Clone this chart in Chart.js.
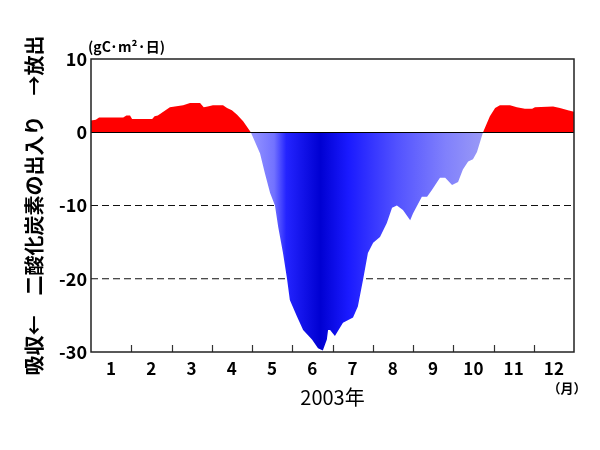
<!DOCTYPE html>
<html>
<head>
<meta charset="utf-8">
<script src="https://cdn.jsdelivr.net/npm/chart.js@4/dist/chart.umd.min.js"></script>
<style>
html,body{margin:0;padding:0;background:#fff;}
#wrap{width:600px;height:450px;position:relative;}
</style>
</head>
<body>
<div id="wrap"><canvas id="c" width="600" height="450"></canvas></div>
<script>
// month position (0 = start of Jan, 12 = end of Dec)
const monthPos = [
  0, 0.12, 0.2, 0.8, 0.88, 0.97, 1.02, 1.52, 1.58, 1.66, 1.96, 2.29, 2.46, 2.71, 2.8, 2.9, 3.03, 3.28, 3.38, 3.5, 3.63, 3.78, 3.97,
  4.2, 4.32, 4.45, 4.57, 4.65, 4.77, 4.87, 4.94, 5.12, 5.27, 5.49, 5.64, 5.76, 5.86, 5.89, 5.94, 6.06, 6.26, 6.51, 6.63, 6.76, 6.88,
  7.01, 7.18, 7.35, 7.48, 7.6, 7.75, 7.93, 8.0, 8.22, 8.35, 8.47, 8.67, 8.8, 8.97, 9.12, 9.24, 9.37, 9.49, 9.59, 9.74,
  9.91, 10.04, 10.16, 10.41, 10.58, 10.78, 10.96, 11.03, 11.48, 11.65, 11.85, 12
];
// CO2 flux (gC/m2/day), + = release, - = uptake
const co2Flux = [
  1.6, 1.7, 2.0, 2.0, 2.3, 2.3, 1.8, 1.8, 2.2, 2.3, 3.4, 3.7, 4.0, 4.0, 3.4, 3.5, 3.7, 3.7, 3.3, 3.0, 2.4, 1.5, 0,
  -2.9, -5.6, -8.3, -10, -12.9, -16.5, -20, -22.9, -25.2, -27, -28.3, -29.5, -29.8, -28.3, -27, -27, -27.8, -26, -25.3, -23.8, -20.1, -16.5,
  -15.1, -14.3, -12.4, -10.3, -10, -10.6, -12, -11.1, -8.8, -8.8, -7.9, -6.2, -6.2, -7.2, -6.8, -5.1, -4.0, -3.7, -2.7, 0,
  2.2, 3.3, 3.7, 3.7, 3.4, 3.2, 3.2, 3.4, 3.5, 3.3, 3.0, 2.8
];
const monthLabels = ['1','2','3','4','5','6','7','8','9','10','11','12'];
const yTicks = [10, 0, -10, -20, -30];
const refLevels = [-10, -20];
const yTitle = '吸収←　二酸化炭素の出入り　→放出';
const xTitle = '2003年';
const unitLabel = '(gC·m²·日)';
const monthUnit = '（月）';

const FONT = '"Noto Sans CJK JP", "Liberation Sans", sans-serif';

const fluxPoints = monthPos.map((m, i) => ({x: m, y: co2Flux[i]}));
const refDatasets = refLevels.map(v => ({
  data: [{x: 0, y: v}, {x: 12, y: v}],
  borderColor: '#111', borderWidth: 1.2, borderDash: [7, 4],
  pointRadius: 0, fill: false, tension: 0
}));

function blueGradient(context) {
  const chart = context.chart;
  const area = chart.chartArea;
  if (!area) return '#4040ff';
  const xs = chart.scales.x;
  const x0 = xs.getPixelForValue(0), x1 = xs.getPixelForValue(12);
  const g = chart.ctx.createLinearGradient(x0, 0, x1, 0);
  const stops = [[4.0,'#9494ff'],[4.55,'#7272ff'],[4.85,'#2424ff'],[5.7,'#0000d2'],[6.4,'#1a1aff'],[7.6,'#5252ff'],[8.8,'#8080fc'],[9.75,'#9a9af6']];
  stops.forEach(([m, c]) => g.addColorStop(m / 12, c));
  return g;
}

const extras = {
  id: 'extras',
  afterDatasetsDraw(chart) {
    const {ctx, chartArea: a, scales: {x, y}} = chart;
    ctx.save();
    // zero line
    ctx.strokeStyle = '#000'; ctx.lineWidth = 1.2;
    ctx.beginPath();
    const y0 = Math.round(y.getPixelForValue(0)) + 0.5;
    ctx.moveTo(a.left, y0); ctx.lineTo(a.right, y0); ctx.stroke();
    // inward month ticks
    ctx.strokeStyle = '#333'; ctx.lineWidth = 1.2;
    for (let m = 1; m < 12; m++) {
      const px = Math.round(x.getPixelForValue(m)) + 0.5;
      ctx.beginPath(); ctx.moveTo(px, a.bottom); ctx.lineTo(px, a.bottom - 7); ctx.stroke();
    }
    // frame
    ctx.strokeStyle = '#222'; ctx.lineWidth = 1.5;
    ctx.strokeRect(a.left, a.top, a.right - a.left, a.bottom - a.top);
    // unit labels
    ctx.fillStyle = '#000';
    ctx.font = 'bold 14px ' + FONT;
    ctx.textBaseline = 'middle'; ctx.textAlign = 'left';
    ctx.fillText(unitLabel, a.left - 3, a.top - 12);
    ctx.font = 'bold 13px ' + FONT;
    ctx.textAlign = 'center';
    ctx.fillText(monthUnit, 567, 388);
    ctx.restore();
  }
};

new Chart(document.getElementById('c'), {
  type: 'line',
  data: {
    datasets: [{
      data: fluxPoints,
      borderWidth: 0, borderColor: 'rgba(0,0,0,0)',
      pointRadius: 0, tension: 0,
      backgroundColor: blueGradient,
      fill: {target: 'origin', above: '#ff0000'}
    }, ...refDatasets]
  },
  options: {
    responsive: false, animation: false,
    layout: {padding: {left: 0, right: 26, top: 59, bottom: 0}},
    plugins: {legend: {display: false}, tooltip: {enabled: false}},
    scales: {
      x: {
        type: 'linear', min: 0, max: 12,
        afterBuildTicks: s => { s.ticks = monthLabels.map((_, i) => ({value: i + 0.5})); },
        afterFit: s => { s.height = 98; },
        ticks: {
          autoSkip: false, maxRotation: 0, padding: 6, color: '#000',
          font: {family: FONT, size: 17, weight: 'bold'},
          callback: (v) => monthLabels[Math.floor(v)]
        },
        grid: {display: false, drawTicks: false},
        border: {display: false},
        title: {display: true, text: xTitle, color: '#000', font: {family: FONT, size: 20}, padding: {top: 0, bottom: 41}}
      },
      y: {
        min: -30, max: 10,
        afterBuildTicks: s => { s.ticks = yTicks.map(v => ({value: v})); },
        afterFit: s => { s.width = 91; },
        ticks: {
          padding: 4, color: '#000',
          font: {family: FONT, size: 18, weight: 'bold'}
        },
        grid: {display: false, drawTicks: false},
        border: {display: false},
        title: {display: true, text: yTitle, color: '#000', font: {family: FONT, size: 20, weight: 'bold'}, padding: {top: 22, bottom: 0}}
      }
    }
  },
  plugins: [extras]
});
</script>
</body>
</html>
